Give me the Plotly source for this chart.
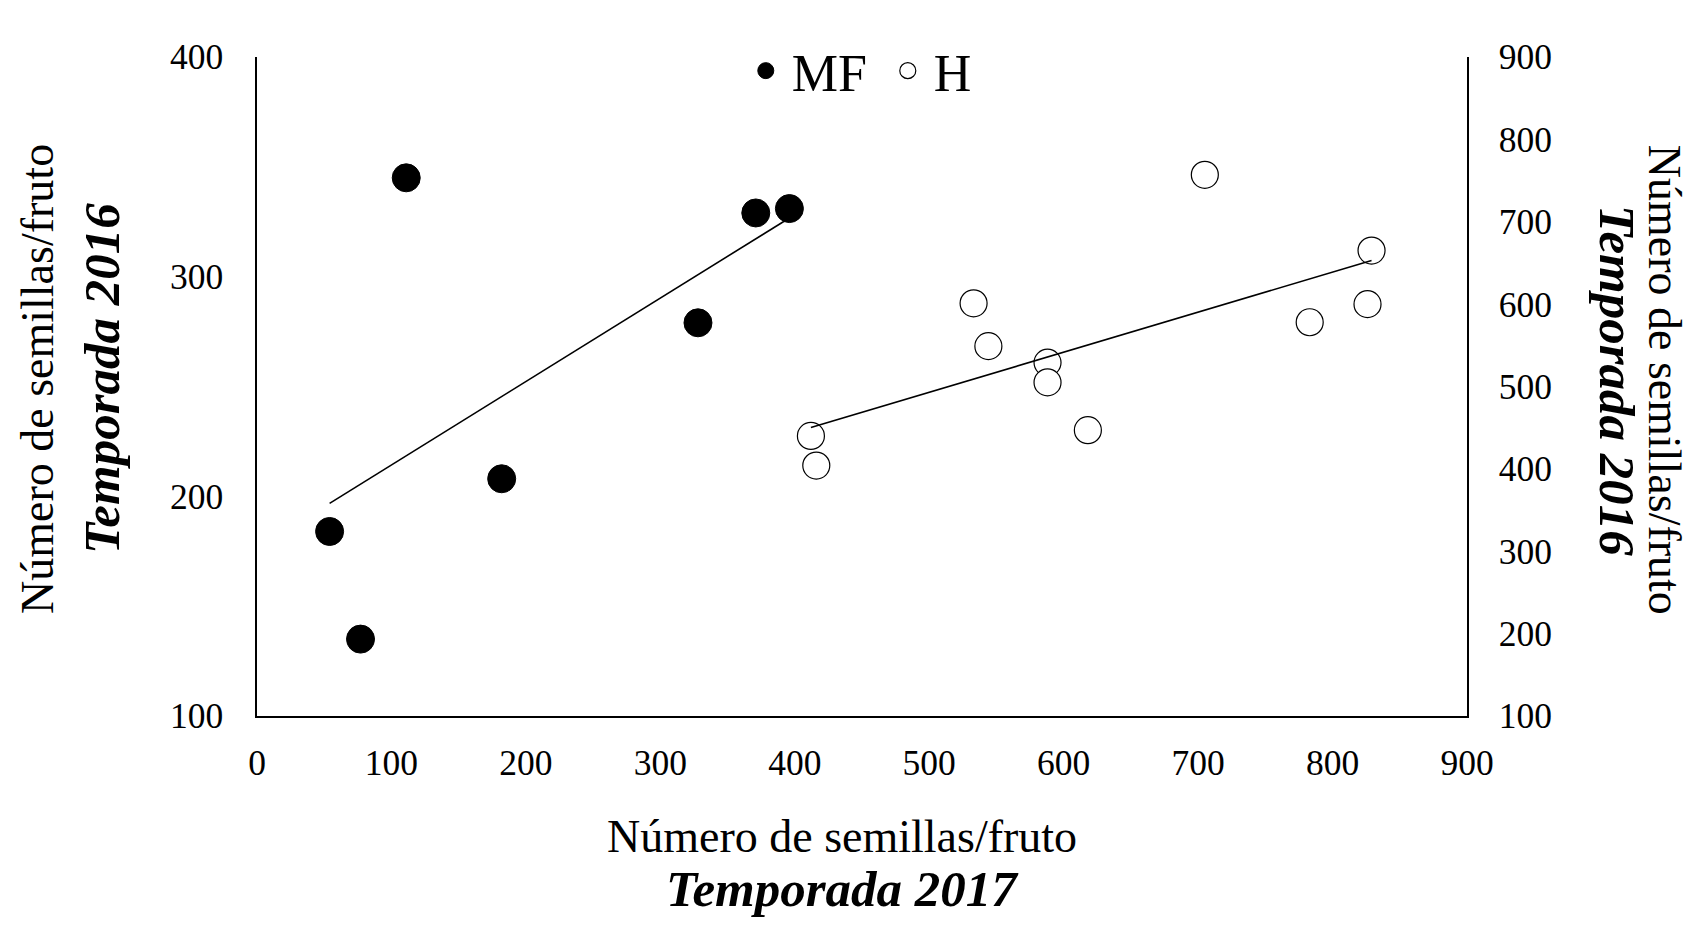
import numpy as np
import plotly.graph_objects as go

# ---- data ----
mf_x = [54, 77, 111, 182, 328, 371, 396]
mf_y = [184, 135, 345, 208, 279, 329, 331]
h_x = [412, 416, 533, 544, 588, 588, 618, 705, 783, 826, 829]
h_y = [440, 404, 601, 549, 529, 505, 447, 757, 578, 600, 665]

x_ticks = [0, 100, 200, 300, 400, 500, 600, 700, 800, 900]
y_ticks = [100, 200, 300, 400]
y2_ticks = [100, 200, 300, 400, 500, 600, 700, 800, 900]

FONT = "Liberation Serif"

def trend(xs, ys):
    m, b = np.polyfit(xs, ys, 1)
    xx = np.array([min(xs), max(xs)])
    return xx, m * xx + b

fig = go.Figure()

fig.add_trace(go.Scatter(
    x=mf_x, y=mf_y, mode="markers", name="MF",
    marker=dict(size=28, color="black", line=dict(color="black", width=1)),
))
fig.add_trace(go.Scatter(
    x=h_x, y=h_y, mode="markers", name="H", yaxis="y2",
    marker=dict(size=27, color="white", line=dict(color="black", width=1.2)),
))

tx, ty = trend(mf_x, mf_y)
fig.add_trace(go.Scatter(x=tx, y=ty, mode="lines", showlegend=False,
                         line=dict(color="black", width=1.6), hoverinfo="skip"))
tx2, ty2 = trend(h_x, h_y)
fig.add_trace(go.Scatter(x=tx2, y=ty2, mode="lines", showlegend=False, yaxis="y2",
                         line=dict(color="black", width=1.6), hoverinfo="skip"))

tickfont = dict(family=FONT, size=35.5, color="black")

# page body has an 8px margin, so the figure is 16px smaller than the window
fig.update_layout(
    width=1684, height=921,
    margin=dict(l=249, r=225, t=49, b=213),
    paper_bgcolor="white", plot_bgcolor="white",
    font=dict(family=FONT, color="black"),
    showlegend=True,
    legend=dict(orientation="h", x=0.399, xanchor="left", y=0.979, yanchor="middle",
                font=dict(family=FONT, size=52, color="black"),
                bgcolor="rgba(0,0,0,0)", itemwidth=42,
                entrywidth=85, entrywidthmode="pixels"),
    xaxis=dict(range=[0, 900], tickvals=x_ticks, showgrid=False, zeroline=False,
               showline=True, linecolor="black", linewidth=1.5, ticks="",
               tickfont=tickfont, ticklabelstandoff=15),
    yaxis=dict(range=[100, 400], tickvals=y_ticks, showgrid=False, zeroline=False,
               showline=True, linecolor="black", linewidth=1.5, ticks="",
               tickfont=tickfont, ticklabelstandoff=25),
    yaxis2=dict(range=[100, 900], tickvals=y2_ticks, overlaying="y", side="right",
                showgrid=False, zeroline=False, showline=True, linecolor="black",
                linewidth=1.5, ticks="", tickfont=tickfont, ticklabelstandoff=23),
)

reg = dict(family=FONT, size=46, color="black")
bi = dict(family=FONT, size=51, color="black")
ann = [
    dict(text="Número de semillas/fruto", x=0.4835, y=-0.1823, font=reg, textangle=0),
    dict(text="<b><i>Temporada 2017</i></b>", x=0.4835, y=-0.2626, font=bi, textangle=0),
    dict(text="Número de semillas/fruto", x=-0.181, y=0.5114, font=reg, textangle=-90),
    dict(text="<b><i>Temporada 2016</i></b>", x=-0.128, y=0.5114, font=bi, textangle=-90),
    dict(text="<b><i>Temporada 2016</i></b>", x=1.124, y=0.5099, font=bi, textangle=90),
    dict(text="Número de semillas/fruto", x=1.163, y=0.5099, font=reg, textangle=90),
]
for a in ann:
    fig.add_annotation(xref="paper", yref="paper", xanchor="center", yanchor="middle",
                       showarrow=False, **a)

fig.write_html("out.html")
